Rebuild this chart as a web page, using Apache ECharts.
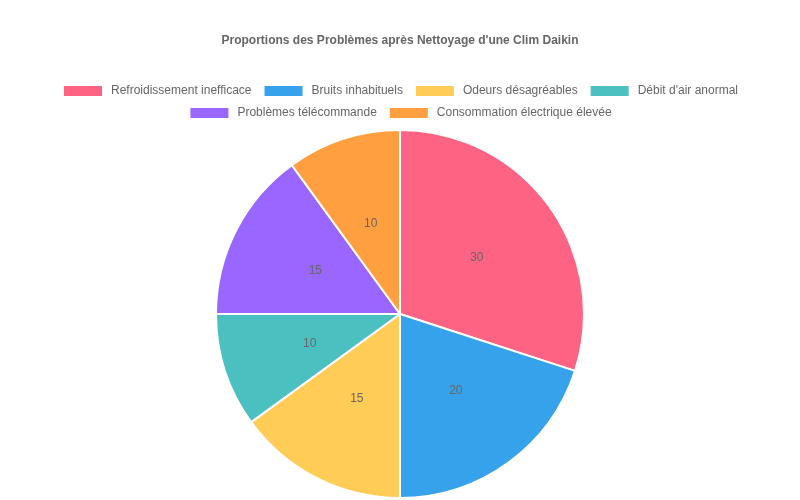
<!DOCTYPE html>
<html>
<head>
    <meta charset="utf-8">
    <script src="https://cdn.jsdelivr.net/npm/echarts@6/dist/echarts.min.js"></script>
</head>
<body style="margin:0;background:#fff;">
    <div id="main" style="width: 800px;height:500px;"></div>
    <script type="text/javascript">
        // données du graphique
        var categories = ['Refroidissement inefficace', 'Bruits inhabituels', 'Odeurs désagréables',
            'Débit d\'air anormal', 'Problèmes télécommande', 'Consommation électrique élevée'];
        var values = [30, 20, 15, 10, 15, 10];
        var colors = ['#ff6384', '#36a2eb', '#ffcd56', '#4bc0c0', '#9966ff', '#ff9f40'];

        var myChart = echarts.init(document.getElementById('main'));

        var fontFam = '"Liberation Sans", Arial, Helvetica, sans-serif';
        var legendBase = {
            left: 'center',
            itemWidth: 40,
            itemHeight: 12,
            itemGap: 11,
            icon: 'rect',
            textStyle: { color: '#666', fontSize: 12, fontFamily: fontFam, padding: [0, 0, 0, 3] }
        };

        myChart.setOption({
            color: colors,
            animation: false,
            title: {
                text: 'Proportions des Problèmes après Nettoyage d\'une Clim Daikin',
                left: 'center',
                top: 30,
                textStyle: { color: '#666', fontSize: 12, fontWeight: 'bold', fontFamily: fontFam }
            },
            legend: [
                Object.assign({}, legendBase, { top: 79, data: categories.slice(0, 4) }),
                Object.assign({}, legendBase, { top: 101, data: categories.slice(4) })
            ],
            series: [
                {
                    type: 'pie',
                    center: [400, 314],
                    radius: 184,
                    startAngle: 90,
                    clockwise: true,
                    itemStyle: { borderColor: '#fff', borderWidth: 2 },
                    label: {
                        show: true,
                        position: 'inside',
                        formatter: '{c}',
                        color: '#666',
                        fontSize: 12,
                        fontFamily: fontFam,
                        padding: [3, 0, 0, 0]
                    },
                    labelLine: { show: false },
                    emphasis: { scale: false },
                    data: categories.map(function (name, i) {
                        return { name: name, value: values[i] };
                    })
                }
            ]
        });
    </script>
</body>
</html>
